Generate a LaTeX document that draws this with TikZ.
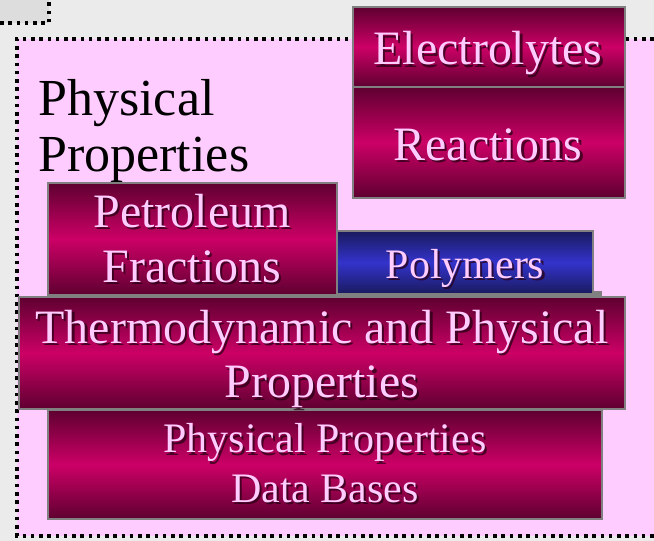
\documentclass[tikz,border=0pt]{standalone}
\usepackage{fontspec}
\setmainfont{Liberation Serif}
\definecolor{PaleGray}{RGB}{235,235,235}
\definecolor{CornerGray}{RGB}{221,221,221}
\definecolor{PinkPanel}{RGB}{255,204,255}
\definecolor{BerryDark}{RGB}{94,0,48}
\definecolor{BerryMid}{RGB}{204,0,102}
\definecolor{InkDark}{RGB}{26,26,94}
\definecolor{InkMid}{RGB}{51,51,204}
\definecolor{EdgeGray}{RGB}{128,128,128}
\definecolor{LabelPink}{RGB}{255,204,255}
\definecolor{ShadowDark}{RGB}{40,0,20}
\begin{document}
\begin{tikzpicture}[x=0.02cm,y=-0.02cm,
  dots/.style={line width=2pt,dash pattern=on 2pt off 2.7pt},
  berry/.style={draw=EdgeGray,line width=1.1pt,top color=BerryDark,bottom color=BerryDark,middle color=BerryMid},
  ink/.style={draw=EdgeGray,line width=1.1pt,top color=InkDark,bottom color=InkDark,middle color=InkMid},
  lab/.style={text=LabelPink,font=\fontsize{27.3}{31.3}\selectfont,align=center,anchor=base,inner sep=0pt},
  labsmall/.style={lab,font=\fontsize{23.9}{27.9}\selectfont},
  txtshadow/.style={text=ShadowDark,text opacity=0.75,xshift=1.2pt,yshift=-1.2pt}]
  \useasboundingbox (0,0) rectangle (654,541);
  \fill[PaleGray] (0,0) rectangle (654,541);
  \fill[CornerGray] (0,0) rectangle (49,23);
  \draw[dots] (0,23)--(49,23)--(49,0);
  \fill[PinkPanel] (17,39) rectangle (654,536);
  \draw[dots] (654,39)--(17,39)--(17,536)--(654,536);
  % upper right stack
  \draw[berry] (353,7) rectangle (625,87);
  \draw[berry] (353,87) rectangle (625,198);
  \node[lab,txtshadow] (electrolytes-sh) at (488,65) {Electrolytes};
  \node[lab] (electrolytes) at (488,65) {Electrolytes};
  \node[lab,txtshadow] (reactions-sh) at (488,160) {Reactions};
  \node[lab] (reactions) at (488,160) {Reactions};
  % panel title (base = last line)
  \node[anchor=base west,align=left,inner sep=0pt,font=\fontsize{29.6}{32.4}\selectfont] (title) at (38,172) {Physical\\Properties};
  % middle row
  \fill[EdgeGray] (337,291) rectangle (602,298);
  \draw[berry] (48,183) rectangle (337,295);
  \draw[ink] (337,231) rectangle (593,294);
  \node[lab,txtshadow] (petroleum-sh) at (192,282) {Petroleum\\Fractions};
  \node[lab] (petroleum) at (192,282) {Petroleum\\Fractions};
  \node[labsmall,txtshadow] (polymers-sh) at (465,278) {Polymers};
  \node[labsmall] (polymers) at (465,278) {Polymers};
  % bottom rows
  \draw[berry] (48,410) rectangle (602,519);
  \draw[berry] (19,297) rectangle (625,409);
  \node[lab,txtshadow] (thermo-sh) at (322,398) {Thermodynamic and Physical\\Properties};
  \node[lab] (thermo) at (322,398) {Thermodynamic and Physical\\Properties};
  \node[labsmall,txtshadow] (databases-sh) at (325,502) {Physical Properties\\Data Bases};
  \node[labsmall] (databases) at (325,502) {Physical Properties\\Data Bases};
\end{tikzpicture}
\end{document}
